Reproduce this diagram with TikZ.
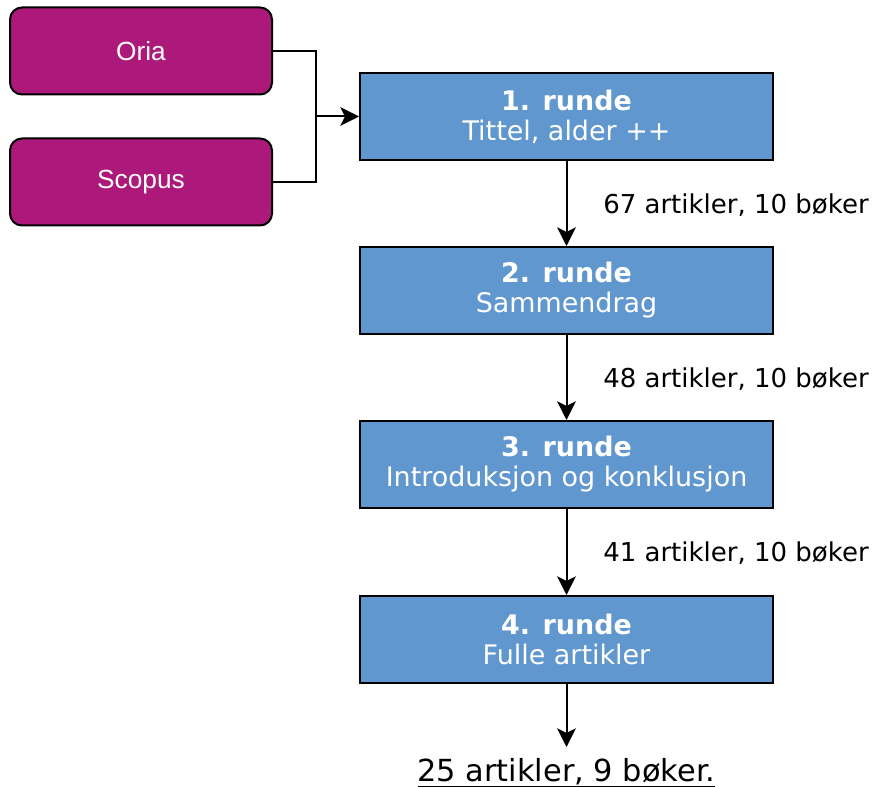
\documentclass[tikz,border=0pt]{standalone}
\usepackage{fontspec}
\setmainfont{DejaVu Sans}
\newfontfamily\arialfont{Liberation Sans}
\usetikzlibrary{arrows.meta}
\definecolor{sourcepink}{RGB}{173,25,123}
\definecolor{roundblue}{RGB}{97,151,207}

\begin{document}
\begin{tikzpicture}[x=0.75pt, y=-0.75pt,
    source/.style={draw, line width=1.5pt, fill=sourcepink, rounded corners=9pt,
        minimum width=196.5pt, minimum height=65.25pt, text=white,
        font=\arialfont\fontsize{19.7}{22}\selectfont},
    roundbox/.style={draw, line width=1.5pt, fill=roundblue, minimum width=309.75pt,
        minimum height=65.25pt, text=white, align=center,
        font=\fontsize{20.2}{22.5}\selectfont},
    flow/.style={-{Stealth[length=14pt, width=14pt, inset=3.5pt]}, line width=1.5pt},
    count/.style={anchor=west, inner sep=0pt, font=\fontsize{19.5}{22.5}\selectfont}]
    \useasboundingbox (0,0) rectangle (872,787);

    % Sources
    \node[source] (oria) at (141,51) {Oria};
    \node[source] (scopus) at (141,182) {Scopus};
    \coordinate (join) at (316,116.5);

    % Screening rounds
    \node[roundbox] (r1) at (566.5,116.5) {\textbf{1. runde}\\Tittel, alder ++};
    \node[roundbox] (r2) at (566.5,290.5) {\textbf{2. runde}\\Sammendrag};
    \node[roundbox] (r3) at (566.5,464.5) {\textbf{3. runde}\\Introduksjon og konklusjon};
    \node[roundbox] (r4) at (566.5,639.5) {\textbf{4. runde}\\Fulle artikler};

    \draw[line width=1.5pt] (oria.east) -| (join);
    \draw[line width=1.5pt] (scopus.east) -| (join);
    \draw[flow] (join) -- (r1.west);

    \draw[flow] (r1) -- (r2);
    \node[count] (c1) at (603,205) {67 artikler, 10 bøker};
    \draw[flow] (r2) -- (r3);
    \node[count] (c2) at (603,379) {48 artikler, 10 bøker};
    \draw[flow] (r3) -- (r4);
    \node[count] (c3) at (603,553) {41 artikler, 10 bøker};

    % Result
    \node[anchor=north, inner xsep=0pt, inner ysep=8pt,
        font=\fontsize{22.8}{26}\selectfont] (result) at (566.5,747)
        {\underline{25 artikler, 9 bøker.}};
    \draw[flow] (r4) -- (result);
\end{tikzpicture}
\end{document}
